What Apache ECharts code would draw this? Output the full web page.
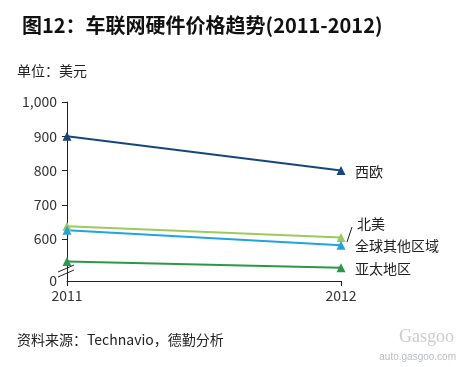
<!DOCTYPE html>
<html><head><meta charset="utf-8">
<script src="https://cdn.jsdelivr.net/npm/echarts@6/dist/echarts.min.js"></script>
<style>html,body{margin:0;padding:0;background:#fff}#c{width:462px;height:367px}</style>
</head><body><div id="c"></div>
<script>
var categories = ['2011', '2012'];
var seriesNames = ['西欧', '北美', '全球其他区域', '亚太地区'];
var westernEurope = [900, 800];
var northAmerica = [638, 605];
var restOfWorld = [626, 582];
var asiaPacific = [535, 517];
var yTickValues = [600, 700, 800, 900, 1000];
var yAxisMin = 478;

var FONT = '"Noto Sans CJK SC","Noto Sans",sans-serif';
var colors = ['#17457f', '#9ccb5c', '#1ea5df', '#2a9848'];
var dataSets = [westernEurope, northAmerica, restOfWorld, asiaPacific];
var labelOffsets = [[6, 1], [8, -14], [6, 0], [6, 1]];

var chart = echarts.init(document.getElementById('c'));
chart.setOption({
  animation: false,
  textStyle: {fontFamily: FONT},
  grid: {left: 67, right: 121, top: 102, bottom: 86, containLabel: false},
  xAxis: {
    type: 'category', data: categories, boundaryGap: false,
    axisLine: {lineStyle: {color: '#222', width: 1}},
    axisTick: {show: true, length: 5, alignWithLabel: true, lineStyle: {color: '#222'}},
    axisLabel: {color: '#333', fontSize: 14, margin: 8, fontFamily: FONT}
  },
  yAxis: {
    type: 'value', min: yAxisMin, max: 1000,
    splitLine: {show: false},
    axisLine: {show: true, lineStyle: {color: '#222', width: 1}},
    axisTick: {show: true, length: 5, customValues: yTickValues, lineStyle: {color: '#222'}},
    axisLabel: {
      color: '#333', fontSize: 14, margin: 10, fontFamily: FONT,
      customValues: [yAxisMin].concat(yTickValues),
      formatter: function (v) { return v === yAxisMin ? '0' : (v >= 1000 ? '1,000' : String(v)); }
    }
  },
  series: seriesNames.map(function (name, i) {
    return {
      name: name, type: 'line', data: dataSets[i],
      symbol: 'triangle', symbolSize: 9,
      lineStyle: {color: colors[i], width: 2},
      itemStyle: {color: colors[i]},
      endLabel: {
        show: true, formatter: name, color: '#222', fontSize: 14,
        fontFamily: FONT, distance: 8, offset: labelOffsets[i]
      }
    };
  }),
  graphic: [
    {type: 'text', left: 22, top: 15, style: {text: '图12：车联网硬件价格趋势(2011-2012)', font: 'bold 20px ' + FONT, fill: '#111'}},
    {type: 'text', left: 17, top: 64, style: {text: '单位：美元', font: '14px ' + FONT, fill: '#222'}},
    {type: 'text', left: 17, top: 333, style: {text: '资料来源：Technavio，德勤分析', font: '14px ' + FONT, fill: '#222'}},
    {type: 'text', right: 6, top: 352, style: {text: 'auto.gasgoo.com', font: '10px Arial, sans-serif', fill: '#b8bcc4'}},
    {type: 'text', right: 8, top: 328, style: {text: 'Gasgoo', font: '18px "Liberation Serif", serif', fill: '#c9ccd2'}},
    {type: 'line', shape: {x1: 58, y1: 272, x2: 74, y2: 265}, style: {stroke: '#222', lineWidth: 1}},
    {type: 'line', shape: {x1: 58, y1: 277, x2: 74, y2: 270}, style: {stroke: '#222', lineWidth: 1}},
    {type: 'line', shape: {x1: 352, y1: 227, x2: 347, y2: 242}, style: {stroke: '#222', lineWidth: 1}}
  ]
});
</script></body></html>
